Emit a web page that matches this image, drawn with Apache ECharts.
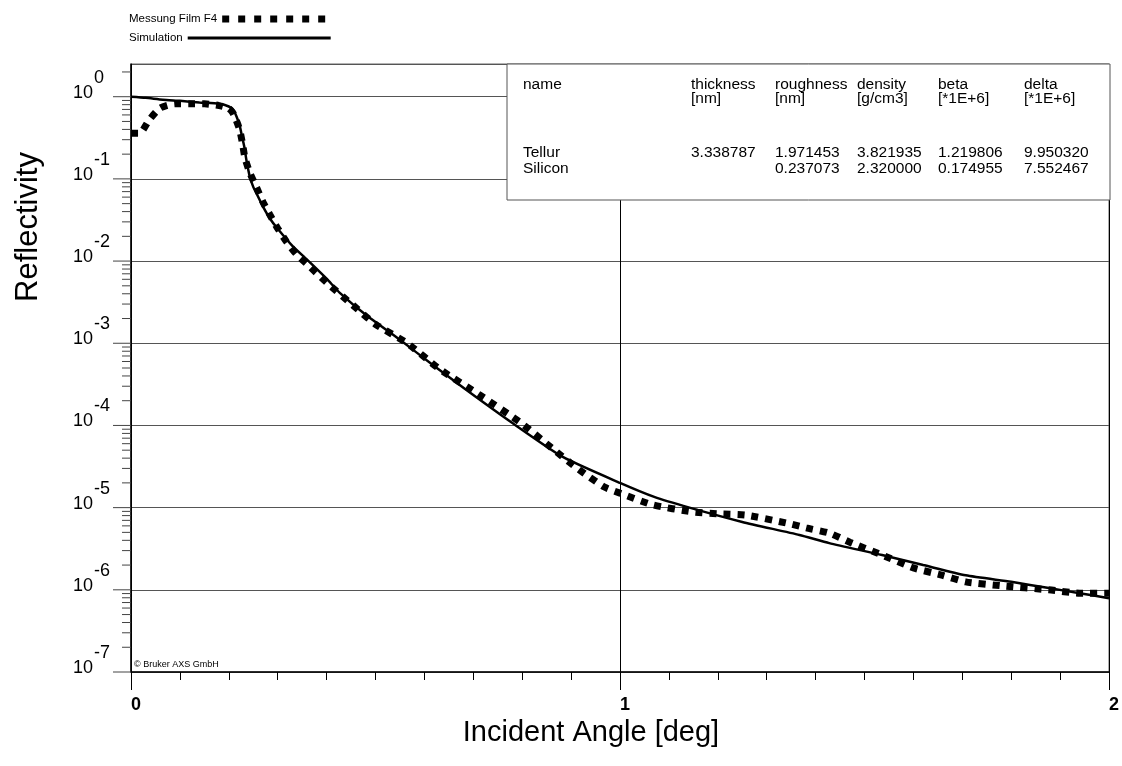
<!DOCTYPE html>
<html>
<head>
<meta charset="utf-8">
<script src="https://cdn.jsdelivr.net/npm/echarts@6/dist/echarts.min.js"></script>
<style>
  html, body { margin: 0; padding: 0; background: #fff; }
  #chart { width: 1122px; height: 766px; }
</style>
</head>
<body>
<div id="chart"></div>
<script>
var measAngle = [0, 0.018, 0.037, 0.06, 0.09, 0.12, 0.15, 0.18, 0.2, 0.208, 0.215, 0.222, 0.228, 0.233, 0.243,
    0.257, 0.27, 0.284, 0.3, 0.318, 0.339, 0.36, 0.4, 0.454, 0.5, 0.564, 0.63, 0.713, 0.795, 0.866, 0.917,
    0.968, 1.0, 1.067, 1.148, 1.2, 1.258, 1.34, 1.381, 1.428, 1.47, 1.536, 1.6, 1.66, 1.707, 1.78, 1.877, 1.94, 2.0];
var measRefl = [0.36, 0.36, 0.52, 0.73, 0.82, 0.82, 0.82, 0.78, 0.72, 0.64, 0.52, 0.40, 0.27, 0.18, 0.119,
    0.078, 0.052, 0.0366, 0.025, 0.0172, 0.012, 0.0092, 0.0055, 0.0029, 0.0017, 0.00101, 4.9e-4, 2.35e-4, 1.1e-4, 5.0e-5, 2.88e-5,
    1.78e-5, 1.5e-5, 1.08e-5, 8.9e-6, 8.4e-6, 8.1e-6, 6.5e-6, 5.66e-6, 4.9e-6, 3.8e-6, 2.65e-6, 1.85e-6, 1.5e-6, 1.25e-6, 1.12e-6, 1.0e-6, 9.1e-7, 9.1e-7];

// simulation curve
var simAngle = [0, 0.03, 0.065, 0.1, 0.14, 0.18, 0.2, 0.21, 0.216, 0.222, 0.227, 0.232, 0.236, 0.243, 0.25,
    0.257, 0.27, 0.284, 0.3, 0.33, 0.36, 0.4, 0.427, 0.48, 0.55, 0.62, 0.686, 0.78, 0.883, 1.0,
    1.07, 1.142, 1.25, 1.367, 1.428, 1.536, 1.62, 1.707, 1.8, 1.877, 1.94, 2.0];
var simRefl = [1.0, 0.97, 0.92, 0.89, 0.85, 0.82, 0.76, 0.68, 0.57, 0.45, 0.33, 0.24, 0.17, 0.106, 0.08,
    0.066, 0.046, 0.033, 0.0247, 0.0153, 0.0104, 0.0061, 0.0041, 0.00222, 0.0011, 5.3e-4, 2.7e-4, 1.07e-4, 4.14e-5, 2.0e-5,
    1.35e-5, 1.0e-5, 6.7e-6, 4.65e-6, 3.7e-6, 2.65e-6, 2.0e-6, 1.5e-6, 1.25e-6, 1.05e-6, 9.1e-7, 7.9e-7];

var seriesNames = ['Messung Film F4', 'Simulation'];

// y ticks: decades (long) and 2..9 x 10^n (short)
var tickDecades = [-7, -6, -5, -4, -3, -2, -1, 0];
var tickMultipliers = [2, 3, 4, 5, 6, 7, 8, 9];

// layer table
var tableCols = ['name', 'thickness', 'roughness', 'density', 'beta', 'delta'];
var tableUnits = ['', '[nm]', '[nm]', '[g/cm3]', '[*1E+6]', '[*1E+6]'];
var tableRow1 = ['Tellur', '3.338787', '1.971453', '3.821935', '1.219806', '9.950320'];
var tableRow2 = ['Silicon', '', '0.237073', '2.320000', '0.174955', '7.552467'];

function pairs(xs, ys) {
    return xs.map(function (x, i) { return [x, ys[i]]; });
}

var yTicks = [];
tickDecades.forEach(function (d) {
    yTicks.push([0, Math.pow(10, d), 18]);
    tickMultipliers.forEach(function (m) {
        var v = m * Math.pow(10, d);
        if (v <= 2.5) yTicks.push([0, v, 9]);
    });
});

var fontName = 'Liberation Sans';
var colX = [523, 691, 775, 857, 938, 1024];

var tableTexts = [];
function addRow(arr, y) {
    arr.forEach(function (t, i) {
        if (!t) return;
        tableTexts.push({
            type: 'text', x: colX[i], y: y, z: 101,
            style: { text: t, fontSize: 15.5, fontFamily: fontName, fill: '#000', verticalAlign: 'middle' }
        });
    });
}
addRow(tableCols, 85);
addRow(tableUnits, 99);
addRow(tableRow1, 153);
addRow(tableRow2, 169);

var myChart = echarts.init(document.getElementById('chart'), null, {renderer: 'canvas'});

var option = {
    animation: false,
    backgroundColor: '#fff',
    textStyle: { fontFamily: fontName },
    grid: {
        left: 131, right: 12, top: 64, bottom: 94,
        show: true, borderColor: '#666', borderWidth: 1
    },
    legend: [
        {
            data: [seriesNames[0]], align: 'right', left: 124, top: 8,
            itemWidth: 108, itemHeight: 8,
            itemStyle: { color: 'rgba(0,0,0,0)', borderWidth: 0 },
            lineStyle: { width: 7, type: [7, 9], cap: 'butt', color: '#000' },
            textStyle: { fontSize: 11.5, color: '#000', fontFamily: fontName }
        },
        {
            data: [seriesNames[1]], align: 'right', left: 124, top: 27,
            itemWidth: 143, itemHeight: 8,
            itemStyle: { color: 'rgba(0,0,0,0)', borderWidth: 0 },
            lineStyle: { width: 3, color: '#000' },
            textStyle: { fontSize: 11.5, color: '#000', fontFamily: fontName }
        }
    ],
    xAxis: {
        type: 'value', min: 0, max: 2, interval: 1,
        name: 'Incident Angle [deg]', nameLocation: 'middle', nameGap: 46,
        nameTextStyle: { fontSize: 29, color: '#000', fontFamily: fontName, padding: [0, 58, 0, 0] },
        axisLine: { lineStyle: { color: '#000', width: 1.5 } },
        axisTick: { length: 18, lineStyle: { color: '#000' } },
        minorTick: { show: true, splitNumber: 10, length: 8, lineStyle: { color: '#000' } },
        axisLabel: { margin: 24, fontSize: 18, fontWeight: 'bold', color: '#000', align: 'left' },
        splitLine: { show: true, lineStyle: { color: '#000', width: 1 } }
    },
    yAxis: {
        type: 'log', logBase: 10, min: 1e-7, max: 2.5, interval: 1,
        axisLine: { show: true, lineStyle: { color: '#000', width: 1.5 } },
        axisTick: { show: false },
        axisLabel: {
            margin: 58, align: 'left', padding: [0, 0, 23, 0],
            formatter: function (v) {
                var e = Math.log10(v);
                var r = Math.round(e);
                if (Math.abs(e - r) > 1e-6) return '';
                return '{e|' + r + '}\n{b|10}';
            },
            rich: {
                e: { fontSize: 18, lineHeight: 15, padding: [0, 0, 0, 21], color: '#000', fontFamily: fontName },
                b: { fontSize: 18, lineHeight: 15, color: '#000', fontFamily: fontName }
            }
        },
        splitLine: { show: true, lineStyle: { color: '#555', width: 1 } }
    },
    graphic: [
        {
            type: 'text', x: 28, y: 227, rotation: Math.PI / 2, z: 100,
            style: { text: 'Reflectivity', fontSize: 31, fontFamily: fontName, fill: '#000', align: 'center', verticalAlign: 'middle' }
        },
        {
            type: 'text', x: 134, y: 665, z: 100,
            style: { text: '© Bruker AXS GmbH', fontSize: 9, fontFamily: fontName, fill: '#000', verticalAlign: 'middle' }
        },
        {
            type: 'rect', x: 507, y: 64, z: 100,
            shape: { width: 603, height: 136 },
            style: { fill: '#fff', stroke: '#555', lineWidth: 1 }
        }
    ].concat(tableTexts),
    series: [
        {
            name: seriesNames[0], type: 'line', data: pairs(measAngle, measRefl),
            showSymbol: false, symbol: 'none', smooth: 0.2,
            lineStyle: { color: '#000', width: 7, type: [7, 7], cap: 'butt' },
            itemStyle: { color: '#000' }, z: 3
        },
        {
            name: seriesNames[1], type: 'line', data: pairs(simAngle, simRefl),
            showSymbol: false, symbol: 'none', smooth: 0.2,
            lineStyle: { color: '#000', width: 2.5 },
            itemStyle: { color: '#000' }, z: 4
        },
        {
            type: 'custom', data: yTicks, clip: false, silent: true, z: 5,
            renderItem: function (params, api) {
                var p = api.coord([0, api.value(1)]);
                var len = api.value(2);
                return {
                    type: 'line',
                    shape: { x1: p[0] - len, y1: p[1], x2: p[0], y2: p[1] },
                    style: { stroke: '#444', lineWidth: 1 }
                };
            }
        }
    ]
};
myChart.setOption(option);
</script>
</body>
</html>
